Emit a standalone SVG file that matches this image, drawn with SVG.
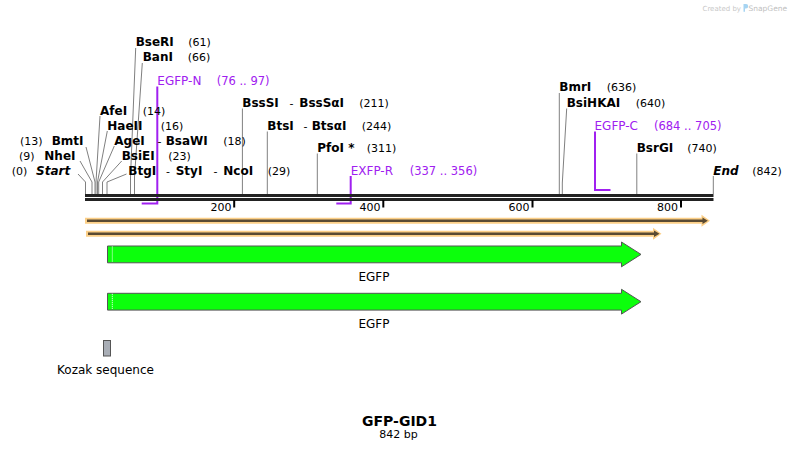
<svg xmlns="http://www.w3.org/2000/svg" width="799" height="451" viewBox="0 0 799 451">
<style>
text{font-family:"DejaVu Sans","Verdana",sans-serif}
.b{font-size:12px;font-weight:bold;fill:#000}
.bi{font-size:12px;font-weight:bold;font-style:italic;fill:#000}
.n{font-size:11px;fill:#000}
.d{font-size:11px;fill:#000}
.p{font-size:12px;fill:#a020f0}
.pn{font-size:11.5px;fill:#a020f0}
.c{stroke:#808080;stroke-width:1;fill:none}
.pr{stroke:#a020f0;stroke-width:2;fill:none}
.seq{stroke:#222;stroke-width:3}
.tick{stroke:#000;stroke-width:2}
.tl{font-size:11px;fill:#000;text-anchor:end}
.glow{fill:#fccf87}
.dk{fill:#594a33}
.dkl{stroke:#594a33;stroke-width:2.5}
.cds{fill:#0cff0c;stroke:#555;stroke-width:1}
.lab{font-size:12px;fill:#000;text-anchor:middle}
</style>

<g id="watermark">
<text x="702.5" y="10.5" style="font-size:7px;fill:#c8c8c8">Created by</text>
<path d="M743.5,4 h2.5 a2.2,2.2 0 0 1 0,4.4 h-1 v3.3 h-1.5 z" fill="#a6d4f2"/>
<text x="748.5" y="10.5" style="font-size:7.5px;fill:#c0c0c0">SnapGene</text>
</g>

<g id="connectors">
<!-- left cluster -->
<polyline class="c" points="78,174 85.5,182 85.5,194"/>
<polyline class="c" points="80,161 92,182 92,194"/>
<polyline class="c" points="86,147 95,182 95,194"/>
<polyline class="c" points="100,116 96,182 96,194"/>
<polyline class="c" points="107.3,131 97.5,182 97.5,194"/>
<polyline class="c" points="114.3,146 98.7,182 98.7,194"/>
<polyline class="c" points="121.7,161 102.5,182 102.5,194"/>
<polyline class="c" points="126.5,174 107,182 107,194"/>
<polyline class="c" points="135.7,48 130.5,177 130.5,194"/>
<polyline class="c" points="142.3,63 134.5,177 134.5,194"/>
<!-- middle -->
<line class="c" x1="242.4" y1="108.5" x2="242.4" y2="194"/>
<line class="c" x1="267.3" y1="131.5" x2="267.3" y2="194"/>
<line class="c" x1="317.3" y1="153.5" x2="317.3" y2="194"/>
<!-- right -->
<line class="c" x1="559.3" y1="93" x2="559.3" y2="194"/>
<polyline class="c" points="566.7,108.5 562.3,183 562.3,194"/>
<line class="c" x1="636.8" y1="153.5" x2="636.8" y2="194"/>
<line class="c" x1="713.3" y1="176" x2="713.3" y2="194"/>
<!-- primers -->
<polyline class="pr" points="157.3,86.5 157.3,203.5 141.7,203.5"/>
<polyline class="pr" points="350.7,176 350.7,203.5 336.3,203.5"/>
<polyline class="pr" points="595,131.5 595,190 610.5,190"/>
</g>

<g id="sequence">
<line class="seq" x1="85" y1="195.5" x2="713.5" y2="195.5"/>
<line class="seq" x1="85" y1="199.5" x2="713.5" y2="199.5"/>
<line class="tick" x1="234.2" y1="200" x2="234.2" y2="207.5"/>
<line class="tick" x1="383.3" y1="200" x2="383.3" y2="207.5"/>
<line class="tick" x1="532.5" y1="200" x2="532.5" y2="207.5"/>
<line class="tick" x1="681" y1="200" x2="681" y2="207.5"/>
<text class="tl" x="231.5" y="211">200</text>
<text class="tl" x="380.5" y="211">400</text>
<text class="tl" x="529.5" y="211">600</text>
<text class="tl" x="678" y="211">800</text>
</g>

<g id="site-start"><text class="n" x="11.7" y="174.5">(0)</text><text class="bi" x="36" y="174.5">Start</text></g>
<g id="site-NheI"><text class="n" x="19" y="159.5">(9)</text><text class="b" x="44.3" y="159.5">NheI</text></g>
<g id="site-BmtI"><text class="n" x="20" y="144.5">(13)</text><text class="b" x="51.7" y="144.5">BmtI</text></g>
<g id="site-AfeI"><text class="b" x="100" y="114.5">AfeI</text><text class="n" x="142.7" y="114.5">(14)</text></g>
<g id="site-HaeII"><text class="b" x="107.3" y="129.5">HaeII</text><text class="n" x="160.7" y="129.5">(16)</text></g>
<g id="site-AgeI"><text class="b" x="114.3" y="144.5">AgeI</text><text class="d" x="157.5" y="144.5">-</text><text class="b" x="165.7" y="144.5">BsaWI</text><text class="n" x="223.3" y="144.5">(18)</text></g>
<g id="site-BsiEI"><text class="b" x="121.7" y="159.5">BsiEI</text><text class="n" x="168.3" y="159.5">(23)</text></g>
<g id="site-BtgI"><text class="b" x="128.3" y="174.5">BtgI</text><text class="d" x="166" y="174.5">-</text><text class="b" x="175.7" y="174.5">StyI</text><text class="d" x="213.5" y="174.5">-</text><text class="b" x="223.3" y="174.5">NcoI</text><text class="n" x="267.7" y="174.5">(29)</text></g>
<g id="site-BseRI"><text class="b" x="135.7" y="46">BseRI</text><text class="n" x="188.3" y="46">(61)</text></g>
<g id="site-BanI"><text class="b" x="142.7" y="61">BanI</text><text class="n" x="187.7" y="61">(66)</text></g>
<g id="primer-EGFP-N"><text class="p" x="157.3" y="84.5">EGFP-N</text><text class="pn" x="216.7" y="84.5">(76 .. 97)</text></g>
<g id="site-BssSI"><text class="b" x="242.3" y="106.5">BssSI</text><text class="d" x="289.5" y="106.5">-</text><text class="b" x="299.3" y="106.5">BssSαI</text><text class="n" x="359.3" y="106.5">(211)</text></g>
<g id="site-BtsI"><text class="b" x="267.3" y="129.5">BtsI</text><text class="d" x="303.5" y="129.5">-</text><text class="b" x="311.7" y="129.5">BtsαI</text><text class="n" x="361.7" y="129.5">(244)</text></g>
<g id="site-PfoI"><text class="b" x="317.3" y="151.5">PfoI *</text><text class="n" x="366.7" y="151.5">(311)</text></g>
<g id="primer-EXFP-R"><text class="p" x="350.7" y="174.5">EXFP-R</text><text class="pn" x="409.7" y="174.5">(337 .. 356)</text></g>
<g id="site-BmrI"><text class="b" x="559.3" y="91">BmrI</text><text class="n" x="606.7" y="91">(636)</text></g>
<g id="site-BsiHKAI"><text class="b" x="566.7" y="106.5">BsiHKAI</text><text class="n" x="635.7" y="106.5">(640)</text></g>
<g id="primer-EGFP-C"><text class="p" x="594.5" y="129.5">EGFP-C</text><text class="pn" x="654" y="129.5">(684 .. 705)</text></g>
<g id="site-BsrGI"><text class="b" x="636.7" y="151.5">BsrGI</text><text class="n" x="687.3" y="151.5">(740)</text></g>
<g id="site-end"><text class="bi" x="713.3" y="174.5">End</text><text class="n" x="752.3" y="174.5">(842)</text></g>

<g id="orf-1">
<polygon class="glow" points="85,217.7 701.5,217.7 701.5,214.7 710,220.7 701.5,226.7 701.5,223.7 85,223.7"/>
<line class="dkl" x1="87" y1="220.7" x2="704" y2="220.7"/>
<polygon class="dk" points="702.5,217.5 707.8,220.7 702.5,223.9"/>
</g>
<g id="orf-2">
<polygon class="glow" points="86,230.7 653,230.7 653,227.7 661.5,233.7 653,239.7 653,236.7 86,236.7"/>
<line class="dkl" x1="88" y1="233.7" x2="655" y2="233.7"/>
<polygon class="dk" points="654,230.5 659.5,233.7 654,236.9"/>
</g>

<g id="feature-EGFP-1">
<polygon class="cds" points="107.5,246 621.5,246 621.5,242 641,254.4 621.5,266.8 621.5,262.8 107.5,262.8"/>
<line x1="112.3" y1="246.5" x2="112.3" y2="262.3" stroke="#fff" stroke-width="1" stroke-dasharray="1,1"/>
<text class="lab" x="374" y="280.5">EGFP</text>
</g>
<g id="feature-EGFP-2">
<polygon class="cds" points="107.5,293.3 621.5,293.3 621.5,289.3 641,301.7 621.5,314.1 621.5,310.1 107.5,310.1"/>
<line x1="112.3" y1="293.8" x2="112.3" y2="309.6" stroke="#fff" stroke-width="1" stroke-dasharray="1,1"/>
<text class="lab" x="374" y="327.5">EGFP</text>
</g>
<g id="feature-Kozak">
<rect x="103.5" y="340.5" width="7" height="15.5" fill="#a9aeb6" stroke="#555" stroke-width="1"/>
<text class="lab" x="105.5" y="374">Kozak sequence</text>
</g>

<g id="title">
<text x="399.5" y="426" style="font-size:14px;font-weight:bold;text-anchor:middle;fill:#000">GFP-GID1</text>
<text x="398.5" y="437.5" style="font-size:11px;text-anchor:middle;fill:#000">842 bp</text>
</g>
</svg>
